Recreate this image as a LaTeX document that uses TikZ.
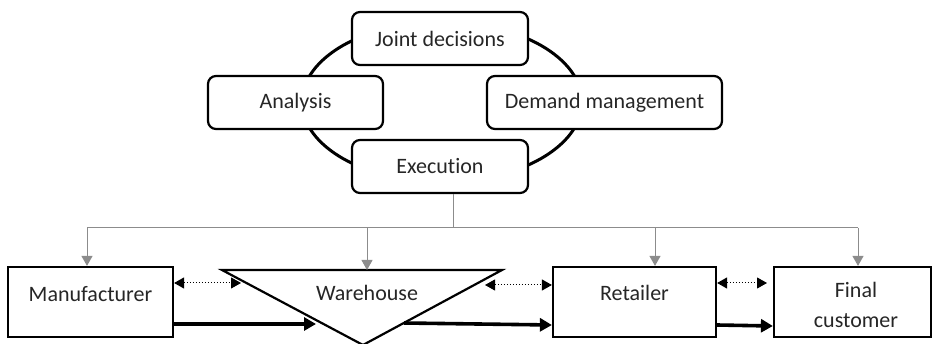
\documentclass[tikz,border=0pt]{standalone}
\usepackage{fontspec}
\setmainfont{Carlito}[Ligatures=NoCommon]
\usetikzlibrary{arrows.meta,shapes.geometric}

\begin{document}
\begin{tikzpicture}[x=1pt,y=-1pt,
  every node/.style={font=\fontsize{22}{30}\selectfont, text=black!85},
  roundbox/.style={draw=black, line width=2.2pt, rounded corners=8pt, fill=white,
    inner sep=0pt, minimum height=53pt},
  flowbox/.style={draw=black, line width=2.2pt, fill=white, inner sep=0pt,
    minimum height=70pt},
  label/.style={inner sep=0pt, align=center},
  feed/.style={draw=black!45, line width=1pt},
  feedarrow/.style={feed, -{Triangle[length=10pt,width=11pt]}},
  infolink/.style={draw=black, line width=1pt, dotted,
    {Triangle[length=10pt,width=11pt]}-{Triangle[length=10pt,width=11pt]}},
  goodslink/.style={draw=black, line width=3.6pt, -{Triangle[length=12pt,width=13pt]}}
]
\useasboundingbox (0,0) rectangle (932,344);

% planning cycle
\node[draw=black, line width=3pt, ellipse, minimum width=280pt, minimum height=160pt,
  inner sep=0pt] (cycle) at (442,102) {};
\node[roundbox, minimum width=176pt] (joint) at (440,38.5) {Joint decisions};
\node[roundbox, minimum width=175pt] (analysis) at (295.5,102.5) {Analysis};
\node[roundbox, minimum width=235pt] (demand) at (604.5,102.5) {Demand management};
\node[roundbox, minimum width=176pt] (exec) at (440,166.5) {Execution};

% supply chain members
\node[flowbox, minimum width=165pt] (manu) at (90.5,302) {};
\node[label] (manuT) at (90.5,294) {Manufacturer};
\coordinate (wl) at (222,270);
\coordinate (wr) at (502,270);
\coordinate (wa) at (363,345);
\draw[black, line width=2.2pt, line join=miter] (wl) -- (wr) -- (wa) -- cycle;
\node[label] (wareT) at (367,293) {Warehouse};
\node[flowbox, minimum width=163pt] (ret) at (634.5,302) {};
\node[label] (retT) at (634.5,293) {Retailer};
\node[flowbox, minimum width=157pt] (fin) at (852.5,302) {};
\node[label] (finT) at (856,305) {Final\\customer};

% coordination feed from execution
\coordinate (hub) at (453,228);
\coordinate (tm) at (87,228);
\coordinate (tw) at (367,228);
\coordinate (tr) at (655,228);
\coordinate (tf) at (858,228);
\draw[feed] (exec.south -| hub) -- (hub);
\draw[feed] (tm) -- (tf);
\draw[feedarrow] (tm) -- (tm |- manu.north);
\draw[feedarrow] (tw) -- (tw |- wl);
\draw[feedarrow] (tr) -- (tr |- ret.north);
\draw[feedarrow] (tf) -- (tf |- fin.north);

% information exchange
\coordinate (mwInfo) at (241,283);
\coordinate (wrInfo) at (485,285);
\coordinate (rfInfo) at (767,283);
\draw[infolink] (manu.east |- mwInfo) -- (mwInfo);
\draw[infolink] (wrInfo) -- (ret.west |- wrInfo);
\draw[infolink] (ret.east |- rfInfo) -- (rfInfo);

% flow of goods
\coordinate (mwGoods) at (316,324);
\coordinate (wrStart) at (404,323);
\draw[goodslink] (manu.east |- mwGoods) -- (mwGoods);
\draw[goodslink] (wrStart) -- (ret.west |- 0,325);
\draw[goodslink] (ret.east |- 0,325) -- (fin.west |- 0,326);
\end{tikzpicture}
\end{document}
